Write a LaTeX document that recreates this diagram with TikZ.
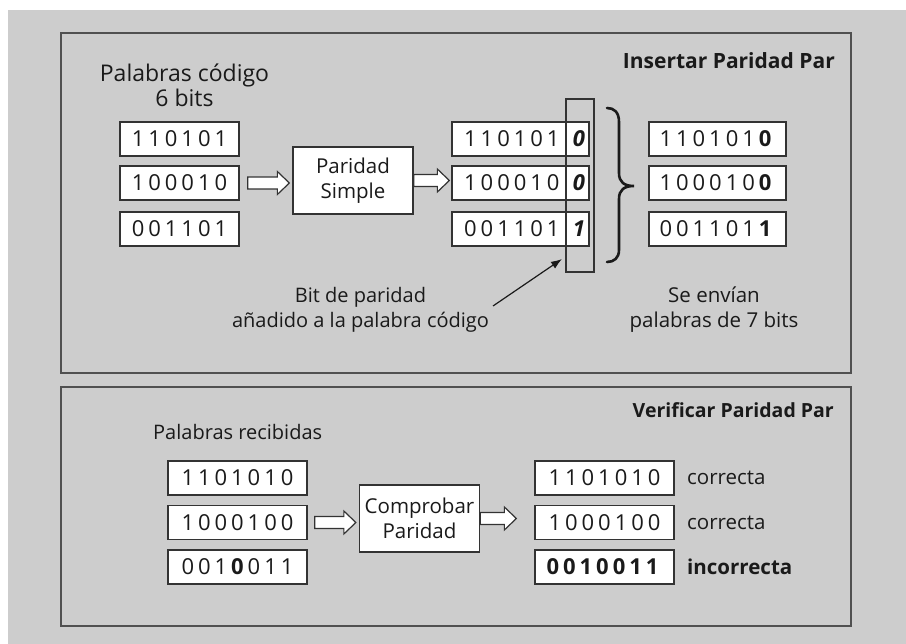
\documentclass[tikz,border=0pt]{standalone}
\usepackage{fontspec}
\setmainfont{Open Sans}
\newfontfamily\digitfont[LetterSpace=18]{Open Sans}
\usetikzlibrary{arrows.meta,calc}
\definecolor{bggray}{HTML}{CDCDCD}
\definecolor{framegray}{HTML}{505050}
\definecolor{linedark}{HTML}{333333}
\definecolor{ink}{HTML}{1A1A1A}
\tikzset{
  panel/.style={draw=framegray,line width=2pt},
  wbox/.style={draw=linedark,line width=1.3pt,fill=white,inner sep=0pt,
    minimum height=34pt,text=ink,font=\digitfont\fontsize{22}{24}\selectfont},
  procbox/.style={draw=linedark,line width=1.3pt,fill=white,inner sep=0pt,
    minimum width=120pt,minimum height=67pt,align=center,text=ink,
    font=\fontsize{20.5}{25}\selectfont},
  dtext/.style={inner sep=0pt,text=ink,font=\digitfont\fontsize{22}{24}\selectfont},
  lbl/.style={inner sep=0pt,text=ink,align=center,font=\fontsize{20.5}{25}\selectfont},
  biglbl/.style={lbl,font=\fontsize{23}{25}\selectfont},
  ttl/.style={inner sep=0pt,text=ink,font=\bfseries\fontsize{20}{23}\selectfont},
  harrow/.style={draw=linedark,line width=1.2pt,fill=white,line join=miter},
  ptr/.style={draw=ink,line width=1.2pt,-{Latex[length=11pt,width=8pt]}},
}
\newcommand\hollowarrow[2]{%
  \path[harrow] let \p1=(#1), \p2=(#2) in
    (\x1,\y1+6pt) -- (\x2-12pt,\y1+6pt) -- (\x2-12pt,\y1+11.5pt) -- (\x2,\y1)
    -- (\x2-12pt,\y1-11.5pt) -- (\x2-12pt,\y1-6pt) -- (\x1,\y1-6pt) -- cycle;}
\begin{document}
\begin{tikzpicture}[x=1pt,y=-1pt]
\useasboundingbox (0,0) rectangle (906,644);
\fill[white] (0,0) rectangle (906,644);
\fill[bggray] (8,10) rectangle (906,644);
% panels
\draw[panel] (61,33) rectangle (851,373);
\draw[panel] (61,387) rectangle (851,626);

% ---------- top panel ----------
\node[ttl,anchor=east,font=\bfseries\fontsize{21}{23}\selectfont] (t1) at (835,61) {Insertar Paridad Par};
\node[biglbl] (lin) at (184.5,85.5) {Palabras código\\6 bits};

\node[wbox,minimum width=119pt] (a1) at (179.5,139) {110101};
\node[wbox,minimum width=119pt] (a2) at (179.5,183) {100010};
\node[wbox,minimum width=119pt] (a3) at (179.5,229) {001101};

\node[procbox] (ps) at (353,180.5) {Paridad\\Simple};

\node[wbox,minimum width=137pt] (m1) at (520.5,139) {};
\node[wbox,minimum width=137pt] (m2) at (520.5,183) {};
\node[wbox,minimum width=137pt] (m3) at (520.5,229) {};
\node[dtext,anchor=west] (m1t) at (464,139) {110101};
\node[dtext,anchor=west] (m2t) at (464,183) {100010};
\node[dtext,anchor=west] (m3t) at (464,229) {001101};
\node[dtext] (m1b) at (579,139) {\bfseries\itshape 0};
\node[dtext] (m2b) at (579,183) {\bfseries\itshape 0};
\node[dtext] (m3b) at (579,229) {\bfseries\itshape 1};
\node[draw=linedark,line width=1.2pt,inner sep=0pt,minimum width=28pt,minimum height=173pt] (vr) at (580,185.5) {};

\node[wbox,minimum width=137pt] (r1) at (717.5,139) {110101\textbf{0}};
\node[wbox,minimum width=137pt] (r2) at (717.5,183) {100010\textbf{0}};
\node[wbox,minimum width=137pt] (r3) at (717.5,229) {001101\textbf{1}};

\hollowarrow{[xshift=8pt]a2.east}{[xshift=-3pt]ps.west}
\hollowarrow{ps.east}{[xshift=-2pt]m2.west}

% brace
\draw[ink,line width=2.6pt,line cap=round]
  (607,108) .. controls (614,108) and (619,112) .. (619,122) -- (619,173)
  .. controls (619,182) and (624,186) .. (634,186)
  .. controls (624,186) and (619,190) .. (619,199) -- (619,250)
  .. controls (619,258) and (614,262) .. (607,262);

\node[lbl,font=\fontsize{20}{25}\selectfont] (bitlbl) at (360.5,309.5) {Bit de paridad\\añadido a la palabra código};
\coordinate (ptrS) at (493,306);
\coordinate (ptrE) at (562,259);
\draw[ptr] (ptrS) -- (ptrE);

\node[lbl] (sent) at (714,309.5) {Se envían\\palabras de 7 bits};

% ---------- bottom panel ----------
\node[ttl,anchor=east,font=\bfseries\fontsize{19.5}{23}\selectfont] (t2) at (834,410) {Verificar Paridad Par};
\node[lbl,anchor=west,font=\fontsize{20}{25}\selectfont] (rec) at (153,432) {Palabras recibidas};

\node[wbox,minimum width=139pt] (b1) at (237.5,478) {1101010};
\node[wbox,minimum width=139pt] (b2) at (237.5,522.5) {1000100};
\node[wbox,minimum width=139pt] (b3) at (237.5,567) {001\textbf{0}011};

\node[procbox] (cp) at (419.5,518.5) {Comprobar\\Paridad};

\node[wbox,minimum width=139pt] (c1) at (604.5,478) {1101010};
\node[wbox,minimum width=139pt] (c2) at (604.5,522.5) {1000100};
\node[wbox,minimum width=139pt] (c3) at (604.5,567) {\textbf{0010011}};

\node[lbl,anchor=west] (s1) at (687,478) {correcta};
\node[lbl,anchor=west] (s2) at (687,522.5) {correcta};
\node[lbl,anchor=west,font=\bfseries\fontsize{20.5}{25}\selectfont] (s3) at (687,567) {incorrecta};

\hollowarrow{[xshift=7pt]b2.east}{[xshift=-3pt]cp.west}
\hollowarrow{cp.east}{[xshift=-18pt]c2.west}
\end{tikzpicture}
\end{document}
